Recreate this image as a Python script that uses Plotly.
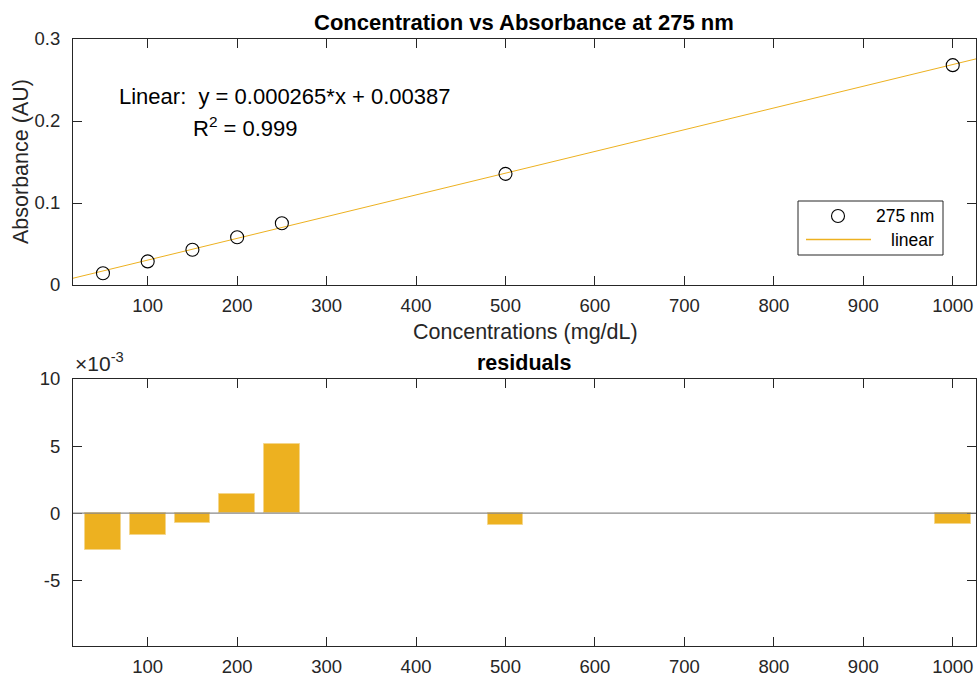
import plotly.graph_objects as go

# Calibration data: absorbance at 275 nm for each standard concentration
concentration = [50, 100, 150, 200, 250, 500, 1000]          # mg/dL
absorbance = [0.01435, 0.02877, 0.04292, 0.05832, 0.07529, 0.13552, 0.2681]  # AU

# Linear fit coefficients and goodness of fit
slope = 0.000265
intercept = 0.00387
r_squared = 0.999

# Axis settings
x_range = [16.5, 1026]
x_ticks = [100, 200, 300, 400, 500, 600, 700, 800, 900, 1000]
abs_range = [0, 0.3]
abs_ticks = [0, 0.1, 0.2, 0.3]
abs_tick_labels = ["0", "0.1", "0.2", "0.3"]
res_range = [-0.0099, 0.01]
res_ticks = [-0.005, 0, 0.005, 0.01]
res_tick_labels = ["-5", "0", "5", "10"]

W, H = 977, 677
FONT = "Liberation Sans, Arial, Helvetica, sans-serif"
INK = "#262626"
FIT_COLOR = "#EDB120"


def px(x):
    return x / W


def py(y):
    return 1 - y / H


fit_x = list(x_range)
fit_y = [slope * x + intercept for x in fit_x]
residuals = [a - (slope * c + intercept) for c, a in zip(concentration, absorbance)]

fig = go.Figure()

fig.add_trace(go.Scatter(
    x=fit_x, y=fit_y, mode="lines",
    line=dict(color=FIT_COLOR, width=1),
    xaxis="x", yaxis="y", showlegend=False, hoverinfo="skip",
))
fig.add_trace(go.Scatter(
    x=concentration, y=absorbance, mode="markers",
    marker=dict(symbol="circle-open", size=13, color="black", line=dict(width=1.1, color="black")),
    xaxis="x", yaxis="y", showlegend=False,
))
fig.add_trace(go.Bar(
    x=concentration, y=residuals, width=40,
    marker=dict(color=FIT_COLOR, line=dict(color="#F4D68C", width=1)),
    xaxis="x2", yaxis="y2", showlegend=False,
))

axis_common = dict(
    showline=True, linecolor=INK, linewidth=1, mirror="allticks",
    ticks="inside", ticklen=9, tickwidth=1, tickcolor=INK,
    showgrid=False, zeroline=False, automargin=False,
    tickfont=dict(family=FONT, size=18.5, color=INK),
)

fig.update_layout(
    width=W, height=H,
    margin=dict(l=0, r=0, t=0, b=0, autoexpand=False),
    paper_bgcolor="white", plot_bgcolor="white",
    font=dict(family=FONT, color=INK),
    showlegend=False,
    bargap=0,
    xaxis=dict(domain=[px(73), px(976)], range=x_range, tickvals=x_ticks,
               anchor="y", ticklabelstandoff=4, **axis_common),
    yaxis=dict(domain=[py(285), py(39)], range=abs_range, tickvals=abs_ticks,
               ticktext=abs_tick_labels, anchor="x", ticklabelstandoff=8, **axis_common),
    xaxis2=dict(domain=[px(73), px(976)], range=x_range, tickvals=x_ticks,
                anchor="y2", ticklabelstandoff=4, **axis_common),
    yaxis2=dict(domain=[py(646), py(379)], range=res_range, tickvals=res_ticks,
                ticktext=res_tick_labels, anchor="x2", ticklabelstandoff=8, **axis_common),
)

shapes = [
    # bar baseline
    dict(type="line", xref="x2 domain", yref="y2", x0=0, x1=1, y0=0, y1=0,
         line=dict(color="#8a8a8a", width=1.2), layer="above"),
    # legend box
    dict(type="rect", xref="paper", yref="paper", x0=px(798), x1=px(943), y0=py(255), y1=py(201),
         line=dict(color=INK, width=1), fillcolor="white", layer="above"),
    dict(type="circle", xref="paper", yref="paper", x0=px(831.5), x1=px(844.5), y0=py(222.5), y1=py(209.5),
         line=dict(color="black", width=1.1), layer="above"),
    dict(type="line", xref="paper", yref="paper", x0=px(806), x1=px(871), y0=py(239.5), y1=py(239.5),
         line=dict(color=FIT_COLOR, width=1.5), layer="above"),
]

annotations = [
    dict(text="<b>Concentration vs Absorbance at 275 nm</b>", xref="paper", yref="paper",
         x=px(524), y=py(22), xanchor="center", yanchor="middle", showarrow=False,
         font=dict(family=FONT, size=22, color="black")),
    dict(text="<b>residuals</b>", xref="paper", yref="paper",
         x=px(524), y=py(363), xanchor="center", yanchor="middle", showarrow=False,
         font=dict(family=FONT, size=21.5, color="black")),
    dict(text="Concentrations (mg/dL)", xref="paper", yref="paper",
         x=px(525), y=py(332), xanchor="center", yanchor="middle", showarrow=False,
         font=dict(family=FONT, size=21.5, color=INK)),
    dict(text="Absorbance (AU)", xref="paper", yref="paper", textangle=-90,
         x=px(21), y=py(162), xanchor="center", yanchor="middle", showarrow=False,
         font=dict(family=FONT, size=21.5, color=INK)),
    dict(text="Linear:  y = %g*x + %g" % (slope, intercept), xref="paper", yref="paper",
         x=px(117), y=py(96), xanchor="left", yanchor="middle", showarrow=False,
         font=dict(family=FONT, size=22, color="black")),
    dict(text="R<sup>2</sup> = %g" % r_squared, xref="paper", yref="paper",
         x=px(191), y=py(127), xanchor="left", yanchor="middle", showarrow=False,
         font=dict(family=FONT, size=22, color="black")),
    dict(text="\u00d710<sup>-3</sup>", xref="paper", yref="paper",
         x=px(73), y=py(377), xanchor="left", yanchor="bottom", showarrow=False,
         font=dict(family=FONT, size=21, color=INK)),
    # legend labels
    dict(text="275 nm", xref="paper", yref="paper",
         x=px(936), y=py(216), xanchor="right", yanchor="middle", showarrow=False,
         font=dict(family=FONT, size=17.5, color="black")),
    dict(text="linear", xref="paper", yref="paper",
         x=px(936), y=py(240), xanchor="right", yanchor="middle", showarrow=False,
         font=dict(family=FONT, size=17.5, color="black")),
]

fig.update_layout(shapes=shapes, annotations=annotations)
fig.write_html("out.html")
